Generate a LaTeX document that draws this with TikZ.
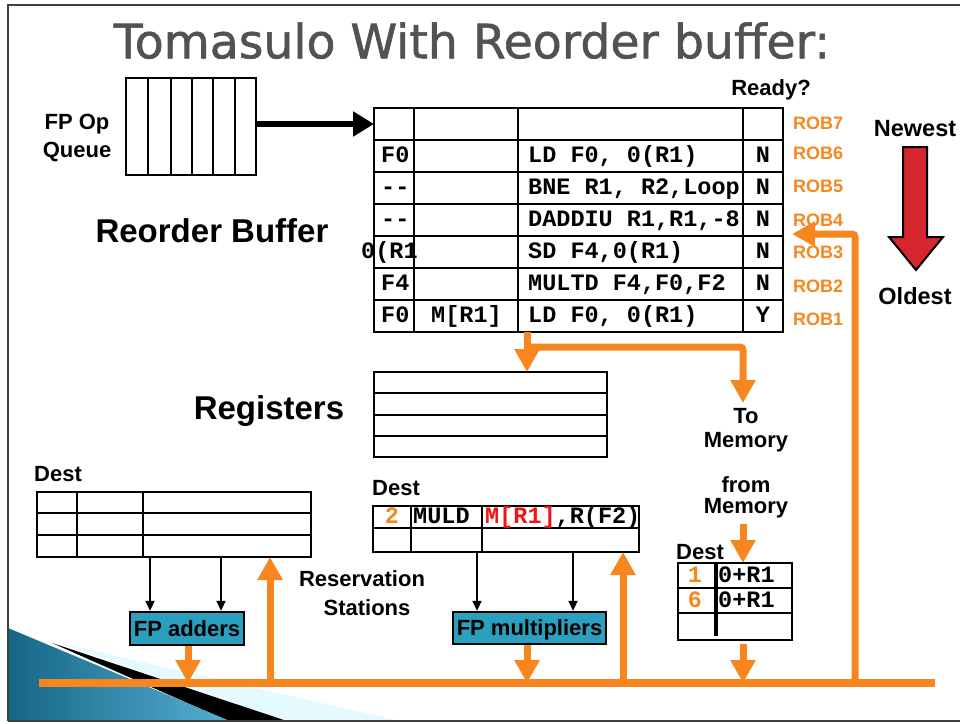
\documentclass[tikz,border=0pt]{standalone}
\usepackage{fontspec}
\setmainfont{Liberation Sans}
\newfontfamily\titlefont[FakeBold=1.2]{DejaVu Sans}
\newfontfamily\mono{Liberation Mono}
\usetikzlibrary{arrows.meta}
\definecolor{org}{RGB}{247,134,31}
\definecolor{tealbox}{RGB}{43,160,190}
\definecolor{redarr}{RGB}{214,38,46}
\definecolor{ttl}{RGB}{82,82,82}
\definecolor{codered}{RGB}{240,20,20}
\begin{document}
\begin{tikzpicture}[x=1pt,y=-1pt,
  tbl/.style={line width=2.8pt},
  lbl/.style={inner sep=0pt, font=\fontsize{22}{24}\selectfont\bfseries, text height=15.8pt, text depth=0pt},
  big/.style={inner sep=0pt, font=\fontsize{33}{34}\selectfont\bfseries, text height=23.6pt, text depth=0pt},
  roblbl/.style={inner sep=0pt, anchor=west, text=org, font=\fontsize{18}{20}\selectfont\bfseries, text height=12.9pt, text depth=0pt},
  code/.style={inner sep=0pt, font=\mono\bfseries\fontsize{23.5}{25}\selectfont, text height=13pt, text depth=0pt},
  orgline/.style={draw=org, line width=7pt},
  orgarrow/.style={draw=org, line width=7pt, -{Triangle[length=23pt,width=24pt]}},
  blkarrow/.style={draw=black, line width=2.2pt, -{Triangle[length=10pt,width=9pt]}},
  unit/.style={draw=black, fill=tealbox, line width=2.5pt, inner sep=0pt, font=\fontsize{22}{24}\selectfont\bfseries, text height=15.8pt, text depth=0pt}
]
\useasboundingbox (0,0) rectangle (960,723);

% ---- slide background decoration
\fill[blue!20!cyan!10] (55,642) -- (400,721) -- (287,721) -- cycle;
\fill[black] (52,643) -- (287,721) -- (228,721) -- cycle;
\shade[left color={rgb,255:red,22;green,102;blue,135}, right color={rgb,255:red,85;green,175;blue,210}] (8,628) -- (230,721) -- (8,721) -- cycle;
% frame
\draw[black!75, line width=2pt] (8,721) -- (8,5) -- (960,5);
\draw[black!75, line width=2pt] (8,721) -- (960,721);

% ---- title
\node[inner sep=0pt, text=ttl, font=\titlefont\fontsize{47.3}{50}\selectfont, text height=34.5pt, text depth=0pt] (title) at (472,41) {Tomasulo With Reorder buffer:};

% ---- FP op queue
\draw[line width=2.5pt] (126,78) rectangle (256,175);
\foreach \x in {148,171,192,213,235} \draw[line width=2.5pt] (\x,78) -- (\x,175);
\coordinate (qout) at (256,124);
\node[lbl] (fpop) at (77,122) {FP Op};
\node[lbl] (queue) at (77,150) {Queue};

% ---- Reorder buffer table
\draw[tbl] (374,108) rectangle (783,332);
\foreach \y in {140,172,204,236,268,300} \draw[tbl] (374,\y) -- (783,\y);
\foreach \x in {414,518,743} \draw[tbl] (\x,108) -- (\x,332);
\coordinate (robin) at (374,124);
\draw[line width=6.5pt, -{Triangle[length=21pt,width=24pt]}] (qout) -- (robin);

\node[lbl] (ready) at (771,88) {Ready?};
\node[big] (robtitle) at (212,231) {Reorder Buffer};

% row ROB6
\node[code, anchor=west] (r6a) at (381,156) {F0};
\node[code, anchor=west] (r6c) at (528,156) {LD F0, 0(R1)};
\node[code] (r6d) at (763,156) {N};
% row ROB5
\node[code, anchor=west] (r5a) at (381,188) {-{}-};
\node[code, anchor=west] (r5c) at (528,188) {BNE R1, R2,Loop};
\node[code] (r5d) at (763,188) {N};
% row ROB4
\node[code, anchor=west] (r4a) at (381,220) {-{}-};
\node[code, anchor=west] (r4c) at (528,220) {DADDIU R1,R1,-8};
\node[code] (r4d) at (763,220) {N};
% row ROB3
\node[code, anchor=west] (r3a) at (361,252) {0(R1};
\draw[tbl] (414,236) -- (414,268);
\node[code, anchor=west] (r3c) at (528,252) {SD F4,0(R1)};
\node[code] (r3d) at (763,252) {N};
% row ROB2
\node[code, anchor=west] (r2a) at (381,284) {F4};
\node[code, anchor=west] (r2c) at (528,284) {MULTD F4,F0,F2};
\node[code] (r2d) at (763,284) {N};
% row ROB1
\node[code, anchor=west] (r1a) at (381,316) {F0};
\node[code, anchor=west] (r1b) at (431,316) {M[R1]};
\node[code, anchor=west] (r1c) at (528,316) {LD F0, 0(R1)};
\node[code] (r1d) at (763,316) {Y};

% ROB labels
\node[roblbl] (rob7) at (793,123) {ROB7};
\node[roblbl] (rob6) at (793,153) {ROB6};
\node[roblbl] (rob5) at (793,186) {ROB5};
\node[roblbl] (rob4) at (793,220) {ROB4};
\node[roblbl] (rob3) at (793,252) {ROB3};
\node[roblbl] (rob2) at (793,286) {ROB2};
\node[roblbl] (rob1) at (793,319) {ROB1};

% Newest / Oldest
\node[inner sep=0pt, font=\fontsize{23.5}{25}\selectfont\bfseries, text height=16.8pt, text depth=0pt] (newest) at (915,128) {Newest};
\node[inner sep=0pt, font=\fontsize{23.5}{25}\selectfont\bfseries, text height=16.8pt, text depth=0pt] (oldest) at (915,296) {Oldest};
\draw[fill=redarr, line width=2pt, line join=miter] (903,147) -- (927,147) -- (927,237) -- (943,237) -- (916,270) -- (889,237) -- (903,237) -- cycle;

% ---- Registers
\node[big] (regtitle) at (269,408) {Registers};
\draw[tbl] (374,372) rectangle (607,457);
\foreach \y in {393,415,436} \draw[tbl] (374,\y) -- (607,\y);

% ---- ROB output to registers / memory
\coordinate (robout) at (527,332);
\coordinate (split) at (527,347);
\coordinate (regin) at (527,372);
\coordinate (memcorner) at (743,347);
\coordinate (tomem) at (743,403);
\draw[orgline] (robout) -- (split);
\draw[orgarrow] (split) -- (regin);
\draw[orgarrow, rounded corners=3pt] (split) -- (memcorner) -- (tomem);

\node[lbl] (to) at (746,416) {To};
\node[lbl] (tomemory) at (746,440) {Memory};
\node[lbl] (from) at (746,485) {from};
\node[lbl] (frommemory) at (746,506) {Memory};

% ---- load buffer
\node[lbl] (ldest) at (700,552) {Dest};
\draw[tbl] (678,563) rectangle (792,640);
\foreach \y in {588,613} \draw[tbl] (678,\y) -- (792,\y);
\draw[line width=3.2pt] (716,563) -- (716,636);
\node[code, text=org] (l1a) at (695,576) {1};
\node[code, anchor=west] (l1b) at (718,576) {0+R1};
\node[code, text=org] (l2a) at (695,601) {6};
\node[code, anchor=west] (l2b) at (718,601) {0+R1};
\coordinate (memin) at (743,524);
\coordinate (ldin) at (743,563);
\coordinate (ldout) at (743,644);
\draw[orgarrow] (memin) -- (ldin);

% ---- left reservation station (adders)
\node[lbl] (adest) at (58,474) {Dest};
\draw[tbl] (37,492) rectangle (311,557);
\foreach \y in {513,535} \draw[tbl] (37,\y) -- (311,\y);
\foreach \x in {77,143} \draw[tbl] (\x,492) -- (\x,557);
\node[unit, minimum width=114pt, minimum height=33pt] (adders) at (187,628.5) {FP adders};
\coordinate (ars1) at (150,557);
\coordinate (ars2) at (221,557);
\draw[blkarrow] (ars1) -- (ars1 |- adders.north);
\draw[blkarrow] (ars2) -- (ars2 |- adders.north);

\node[lbl] (res1) at (362,579) {Reservation};
\node[lbl] (res2) at (367,608) {Stations};

% ---- multiplier reservation station
\node[lbl] (mdest) at (396,488) {Dest};
\draw[tbl] (373,506) rectangle (639,552);
\draw[tbl] (373,528) -- (639,528);
\foreach \x in {411,482} \draw[tbl] (\x,506) -- (\x,552);
\node[code, text=org] (m2) at (392,517) {2};
\node[code, anchor=west] (mop) at (413,517) {MULD};
\node[code, anchor=west] (margs) at (485,517) {\textcolor{codered}{M[R1]},R(F2)};
\node[unit, minimum width=153pt, minimum height=32pt] (mults) at (529.5,628) {FP multipliers};
\coordinate (mrs1) at (477,552);
\coordinate (mrs2) at (573,552);
\draw[blkarrow] (mrs1) -- (mrs1 |- mults.north);
\draw[blkarrow] (mrs2) -- (mrs2 |- mults.north);

% ---- common data bus
\coordinate (busL) at (39,683);
\coordinate (busR) at (935,683);
\draw[draw=org, line width=7.5pt] (busL) -- (busR);

\coordinate (addbus) at (188,683);
\draw[orgarrow] (adders.south -| addbus) -- (addbus);
\coordinate (mulbus) at (527,683);
\draw[orgarrow] (mults.south -| mulbus) -- (mulbus);
\coordinate (ldbus) at (743,683);
\draw[orgarrow] (ldout) -- (ldbus);

\coordinate (arsin) at (270,557);
\draw[orgarrow] (arsin |- busL) -- (arsin);
\coordinate (mrsin) at (623,552);
\draw[orgarrow] (mrsin |- busL) -- (mrsin);

\coordinate (robback) at (792,234);
\draw[orgarrow, rounded corners=3pt] (855,683) -- (855,234) -- (robback);
\end{tikzpicture}
\end{document}
